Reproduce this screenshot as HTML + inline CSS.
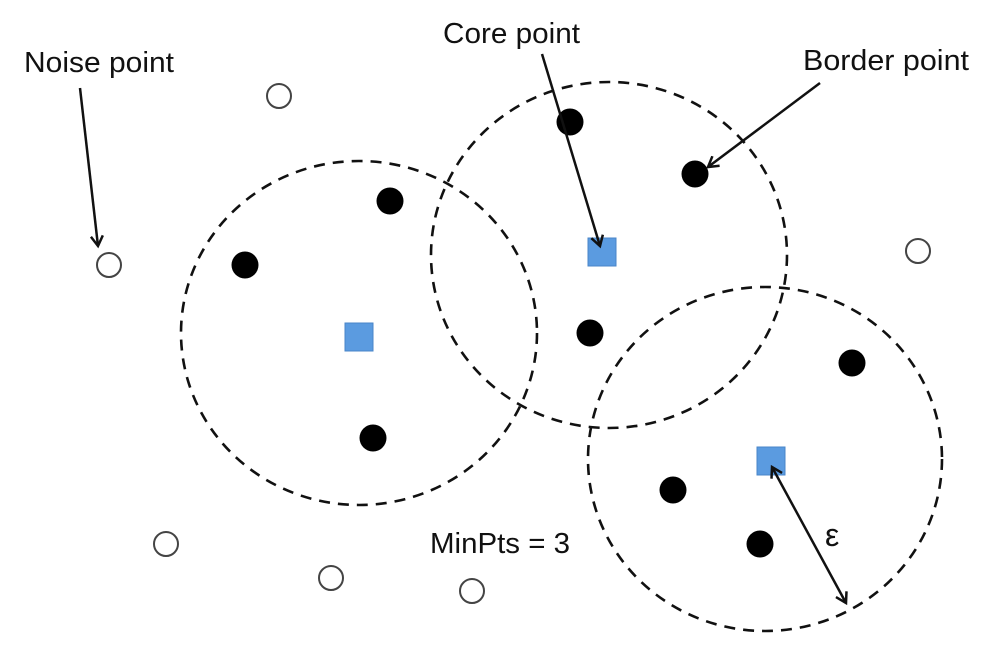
<!DOCTYPE html>
<html><head><meta charset="utf-8"><style>html,body{margin:0;padding:0;background:#fff}svg{display:block}</style></head>
<body>
<svg width="996" height="663" viewBox="0 0 996 663" xmlns="http://www.w3.org/2000/svg" font-family="Liberation Sans, sans-serif">
<defs>
<marker id="a" markerWidth="14" markerHeight="14" refX="11" refY="7" orient="auto" markerUnits="userSpaceOnUse">
<path d="M1,1 L11,7 L1,13" fill="none" stroke="#111" stroke-width="2.5"/>
</marker>
<marker id="b" markerWidth="14" markerHeight="14" refX="3" refY="7" orient="auto" markerUnits="userSpaceOnUse">
<path d="M13,1 L3,7 L13,13" fill="none" stroke="#111" stroke-width="2.5"/>
</marker>
</defs>
<g fill="none" stroke="#111" stroke-width="2.6" stroke-dasharray="11 8">
<ellipse cx="359" cy="333" rx="178" ry="172"/>
<ellipse cx="609" cy="255" rx="178" ry="173"/>
<ellipse cx="765" cy="459" rx="177" ry="172"/>
</g>
<g fill="#000">
<circle cx="570" cy="122" r="13.5"/><circle cx="695" cy="174" r="13.5"/>
<circle cx="390" cy="201" r="13.5"/><circle cx="245" cy="265" r="13.5"/>
<circle cx="590" cy="333" r="13.5"/><circle cx="852" cy="363" r="13.5"/>
<circle cx="373" cy="438" r="13.5"/><circle cx="673" cy="490" r="13.5"/>
<circle cx="760" cy="544" r="13.5"/>
</g>
<g fill="#fff" stroke="#444" stroke-width="2">
<circle cx="279" cy="96" r="12"/><circle cx="109" cy="265" r="12"/>
<circle cx="918" cy="251" r="12"/><circle cx="166" cy="544" r="12"/>
<circle cx="331" cy="578" r="12"/><circle cx="472" cy="591" r="12"/>
</g>
<g fill="#5b9be0" stroke="#4a86c8" stroke-width="1">
<rect x="588" y="238" width="28" height="28"/>
<rect x="345" y="323" width="28" height="28"/>
<rect x="757" y="447" width="28" height="28"/>
</g>
<g stroke="#111" stroke-width="2.5" fill="none">
<line x1="80" y1="88" x2="98" y2="246" marker-end="url(#a)"/>
<line x1="542" y1="54" x2="600" y2="246" marker-end="url(#a)"/>
<line x1="820" y1="83" x2="708" y2="167" marker-end="url(#a)"/>
<line x1="772" y1="467" x2="846" y2="603" marker-start="url(#b)" marker-end="url(#a)"/>
</g>
<g fill="#111" font-size="29">
<text x="24" y="72" textLength="150" lengthAdjust="spacingAndGlyphs">Noise point</text>
<text x="443" y="43" textLength="137" lengthAdjust="spacingAndGlyphs">Core point</text>
<text x="803" y="70" textLength="166" lengthAdjust="spacingAndGlyphs">Border point</text>
<text x="430" y="553" textLength="140" lengthAdjust="spacingAndGlyphs">MinPts = 3</text>
<text x="825" y="546" font-size="32">ε</text>
</g>
</svg>
</body></html>
